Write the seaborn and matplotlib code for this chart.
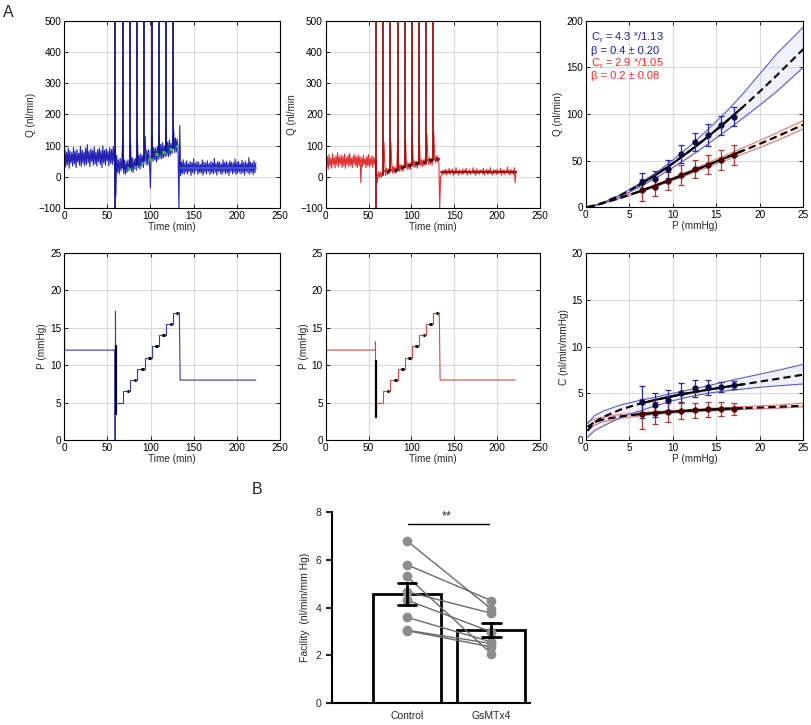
import matplotlib
matplotlib.use("Agg")
import matplotlib.pyplot as plt
import numpy as np
import pandas as pd
import seaborn as sns

sns.set_style("white")
plt.rcParams["font.family"] = ["Liberation Sans", "DejaVu Sans"]
plt.rcParams["mathtext.fontset"] = "custom"
plt.rcParams["mathtext.rm"] = "Liberation Sans"
plt.rcParams["font.size"] = 7.2

# ---- panel A, perfusion traces (1 sample per minute) ----
blue_q_pre = [55, 88, 32, 80, 40, 92, 28, 84, 45, 78, 35, 95, 42, 82, 30, 88, 48, 76, 38, 98,
              34, 86, 44, 80, 36, 92, 40, 104, 46, 82, 33, 90, 50, 85, 38, 96, 42, 80, 35, 88,
              48, 93, 40, 84, 30, 100, 45, 86, 38, 90, 52, 82, 36, 94, 44, 88, 40, 98, 50, 86]
blue_q_ramp = [-60, 70, 15, 55, 10, 60, 20, 58,
               120, 12, 55, 8, 50, 15, 55, 20, 45,
               110, 18, 62, 15, 58, 25, 60, 22,
               120, 30, 70, 25, 75, 35, 68, 30, 80,
               130, 40, 85, 38, 88, 45, -35, 82,
               135, 50, 95, 55, 92, 48, 98, 55,
               140, 60, 105, 58, 110, 62, 100, 65,
               150, 68, 112, 65, 118, 70, 108, 75, 115,
               150, 78, 125, 80, 122, 85]
blue_q_drop = [-100, 165]
blue_q_post = [5, 48, 12, 55, 8, 45, 15, 52, 10, 42, 18, 50, 5, 46, 14, 58, 10, 44, 20, 50,
               8, 47, 15, 40, 12, 55, 6, 48, 16, 45, 10, 52, 18, 43, 8, 50, 14, 46, 10, 60,
               15, 44, 6, 50, 18, 48, 12, 42, 8, 55, 16, 46, 10, 50, 14, 44, 5, 52, 18, 47,
               10, 45, 15, 58, 8, 48, 12, 50, 16, 42, 10, 54, 14, 46, 6, 50, 18, 44, 12, 62,
               10, 48, 15, 45, 8, 52, 14, 45]

red_q_pre = [70, 30, 65, 25, 72, 35, 60, 28, 75, 40, 62, 30, 68, 38, 78, 32, 64, 42, 70, 30,
             66, 36, 74, 28, 62, 40, 70, 33, 76, 38, 60, 30, 68, 42, 72, 35, 64, 30, 70, 38,
             66, -18, 62, 34, 70, 40, 58, 30, 66, 36, 72, 32, 60, 38, 68, 30, 64, 42, 58, 35]
red_q_ramp = [-20, 0, 18, -2, 15, 0, 16, 5,
              110, 40, 5, 28, 8, 26, 10, 28,
              115, 45, 12, 34, 14, 32, 12, 32,
              120, 50, 18, 40, 20, 38, 18, 36, 42,
              125, 55, 24, 44, 26, 46, 24, 44,
              130, 60, 30, 52, 32, 50, 28, 52,
              135, 65, 36, 56, 34, 54, 38, 58, 40,
              140, 70, 40, 62, 42, 60, 38, 58,
              145, 75, 46, 68, 48, 66, 50]
red_q_drop = [-100, 0]
red_q_post = [5, 20, 8, 22, 10, 25, 6, 20, 12, 28, 8, 22, 14, 26, 5, 20, 10, 30, 12, 18,
              6, 24, 14, 20, 8, 26, 10, 22, 15, 28, 6, 20, 12, 24, 8, 18, 14, 30, 10, 22,
              5, 26, 12, 20, 8, 24, 16, 22, 10, 28, 6, 20, 14, 25, 8, 22, 12, 30, 10, 18,
              6, 24, 14, 22, 8, 26, 10, 20, 15, 28, 5, 22, 12, 24, 8, 20, 14, 32, 10, 22,
              6, 25, 12, 20, 8, 30, -18, 20]

# step edges (min) and pressure levels (mmHg)
blue_edges = [59.6, 68, 76.5, 84.6, 93, 101.5, 109.6, 117.7, 126, 133.3]
red_edges = [59.6, 67.3, 75.4, 83.8, 92, 100.4, 108.5, 117, 125, 132.5]
step_levels = [5, 6.5, 8, 9.5, 11, 12.5, 14, 15.5, 17]

blue_spike_t = [59.6, 68, 76.5, 84.6, 93, 101.5, 109.6, 117.7, 126]
blue_spike_base = [-100, 30, 30, 40, 50, 60, 70, 80, 90]
red_spike_t = [0.3, 58.8, 67.3, 75.4, 83.8, 92, 100.4, 108.5, 117, 125]
red_spike_base = [-100, -100, 8, 17, 22, 28, 34, 40, 45, 50]

blue_core_edges = [0, 59.6, 68, 76.5, 84.6, 93, 101.5, 109.6, 117.7, 126, 133]
blue_core = [62, 32, 30, 38, 50, 62, 72, 82, 92, 100]
red_core_edges = [0, 58.8, 67.3, 75.4, 83.8, 92, 100.4, 108.5, 117, 125, 133]
red_core = [50, 6, 19, 24, 32, 40, 45, 49, 54, 59]
blue_post_core = 30
red_post_core = 15

blue_plateau_q = [28, 31, 44, 58, 73, 81, 90, 100]
red_plateau_q = [19, 24, 32, 40, 45, 49, 54, 59]

blue_p_pre_t = [0, 0, 0.4, 58.5, 58.5, 59.3, 59.3, 59.6]
blue_p_pre = [8.3, 18.7, 12, 12, 0, 0, 17.2, 5]
blue_p_post_t = [133.3, 134.3, 222]
blue_p_post = [17, 8, 8]
red_p_pre_t = [0, 0, 0.4, 58, 58, 58.6, 59.6]
red_p_pre = [7.5, 12, 12, 12, 13.1, 3, 5]
red_p_post_t = [132.5, 133.5, 221]
red_p_post = [17, 8, 8]

# ---- panel A, flow / facility vs pressure ----
p_data = [6.5, 8, 9.5, 11, 12.5, 14, 15.5, 17]
q_blue = [27, 30, 41, 57, 70, 77.5, 88, 97]
q_blue_err = [10, 9, 10, 10, 10, 12, 10, 10]
q_red = [18.5, 22, 28.5, 34.6, 41, 45.6, 50.6, 56]
q_red_err = [11.5, 10, 9.5, 10.4, 9.6, 10, 10.4, 10.7]
c_blue = [4.1, 3.75, 4.29, 5.07, 5.54, 5.64, 5.71, 5.89]
c_blue_err = [1.7, 1.25, 1.07, 1.0, 0.89, 0.8, 0.55, 0.42]
c_red = [2.75, 2.86, 2.96, 3.1, 3.21, 3.29, 3.32, 3.36]
c_red_err = [1.6, 1.18, 1.0, 0.9, 0.8, 0.78, 0.75, 0.65]

p_fit = np.array([0.2, 1, 2, 4, 6, 8, 10, 12, 14, 16, 18, 20, 22, 25])
q_fit_blue = [0.2, 1.9, 4.9, 13.0, 23.0, 34.4, 47.0, 60.7, 75.3, 90.8, 107.0, 124.1, 141.8, 169.5]
q_hi_blue = [0.3, 2.0, 5.2, 13.5, 24.5, 36.5, 50.5, 66, 83, 101, 121, 143, 165, 193]
q_lo_blue = [0.1, 1.5, 4.2, 11.5, 20.8, 31.0, 42.5, 54.5, 67.5, 81, 95, 109.5, 124.5, 150]
q_fit_red = [0.3, 1.9, 4.4, 10.1, 16.4, 23.2, 30.3, 37.7, 45.2, 52.8, 60.5, 68.0, 76.0, 88.5]
q_hi_red = [0.4, 2.1, 4.8, 10.8, 17.4, 24.5, 31.8, 39.5, 47.5, 55.5, 63.5, 71.5, 80, 93]
q_lo_red = [0.2, 1.7, 4.0, 9.4, 15.4, 21.9, 28.6, 35.6, 42.8, 50, 57, 64, 71.5, 84]
c_fit_blue = [0.98, 1.87, 2.47, 3.26, 3.83, 4.30, 4.70, 5.06, 5.38, 5.68, 5.95, 6.25, 6.55, 7.0]
c_hi_blue = [1.75, 2.6, 3.1, 3.75, 4.2, 4.6, 5.0, 5.4, 5.8, 6.25, 6.65, 7.05, 7.45, 8.1]
c_lo_blue = [0.3, 1.0, 1.5, 2.4, 3.05, 3.65, 4.2, 4.65, 5.0, 5.25, 5.45, 5.65, 5.8, 6.0]
c_fit_red = [1.39, 1.91, 2.20, 2.53, 2.74, 2.90, 3.03, 3.15, 3.24, 3.33, 3.41, 3.48, 3.55, 3.66]
c_hi_red = [1.9, 2.25, 2.45, 2.75, 2.92, 3.05, 3.17, 3.28, 3.38, 3.48, 3.57, 3.66, 3.75, 3.95]
c_lo_red = [1.0, 1.6, 1.95, 2.32, 2.55, 2.74, 2.88, 3.0, 3.1, 3.18, 3.26, 3.33, 3.40, 3.55]

# ---- panel B ----
control = [6.79, 5.79, 5.30, 4.66, 4.31, 3.59, 3.05, 3.03]
gsmtx4 = [3.94, 4.29, 2.07, 3.76, 2.98, 2.56, 2.49, 2.35]

BLUE_TRACE = "#2424b4"
BLUE_CORE = "#4d5cf2"
BLUE_DARK = "#14147e"
RED_TRACE = "#e23434"
RED_CORE = "#8a0a0a"
RED_DARK = "#9a1010"

fig = plt.figure(figsize=(8.11, 7.25), dpi=100)


def px_axes(left, top, right, bottom):
    return fig.add_axes([left / 811, 1 - bottom / 725, (right - left) / 811, (bottom - top) / 725])


def matlab_box(ax, xlim, ylim, xticks, yticks, xlabel, ylabel):
    ax.set_xlim(xlim)
    ax.set_ylim(ylim)
    ax.set_xticks(xticks)
    ax.set_yticks(yticks)
    ax.grid(True, color="#d9d9d9", lw=0.8)
    ax.set_axisbelow(True)
    for s in ax.spines.values():
        s.set_visible(True)
        s.set_color("black")
        s.set_linewidth(0.8)
    ax.tick_params(direction="in", length=3, width=0.6, top=True, right=True,
                   bottom=True, left=True, labelsize=7.2, pad=2, colors="black")
    ax.set_xlabel(xlabel, fontsize=7.2, labelpad=1)
    ax.set_ylabel(ylabel, fontsize=7.2, labelpad=2)


def q_trace(ax, pre, ramp, drop, post, color, core_edges, core, post_core, core_color,
            spike_t, spike_base, spike_color, edges, plateau, dash_color):
    t = np.concatenate([np.arange(0, len(pre)), 60 + np.arange(len(ramp)),
                        [133, 134], 135 + np.arange(len(post))])
    q = np.concatenate([pre, ramp, drop, post])
    sns.lineplot(x=t, y=q, ax=ax, color=color, lw=0.8, estimator=None, sort=False)
    ax.stairs(core, core_edges, baseline=None, color=core_color, lw=1.6, alpha=0.8)
    ax.plot([135, t[-1]], [post_core, post_core], color=core_color, lw=1.6, alpha=0.8)
    ax.vlines(spike_t, spike_base, 520, color=spike_color, lw=1.3)
    ends = np.array(edges[2:])
    ax.hlines(plateau, ends - 4, ends - 1, color=dash_color, lw=2.2, zorder=5)


def p_trace(ax, pre_t, pre, edges, post_t, post, color, black_t, black_lo, black_hi):
    sns.lineplot(x=pre_t, y=pre, ax=ax, color=color, lw=0.8, estimator=None, sort=False)
    ax.stairs(step_levels, edges, baseline=None, color=color, lw=0.8)
    sns.lineplot(x=post_t, y=post, ax=ax, color=color, lw=0.8, estimator=None, sort=False)
    ax.vlines([black_t], black_lo, black_hi, color="black", lw=1.6)
    ends = np.array(edges[2:])
    ax.hlines(step_levels[1:], ends - 4, ends - 1, color="black", lw=2.2, zorder=5)


time_ticks = [0, 50, 100, 150, 200, 250]

ax1 = px_axes(64, 20.7, 280, 208.3)
q_trace(ax1, blue_q_pre, blue_q_ramp, blue_q_drop, blue_q_post, BLUE_TRACE,
        blue_core_edges, blue_core, blue_post_core, BLUE_CORE,
        blue_spike_t, blue_spike_base, BLUE_DARK, blue_edges, blue_plateau_q, "#2ed12e")
matlab_box(ax1, (0, 250), (-100, 500), time_ticks, range(-100, 501, 100), "Time (min)", "Q (nl/min)")

ax2 = px_axes(325.7, 20.7, 540, 208.3)
q_trace(ax2, red_q_pre, red_q_ramp, red_q_drop, red_q_post, RED_TRACE,
        red_core_edges, red_core, red_post_core, RED_CORE,
        red_spike_t, red_spike_base, RED_DARK, red_edges, red_plateau_q, "#111111")
matlab_box(ax2, (0, 250), (-100, 500), time_ticks, range(-100, 501, 100), "Time (min)", "Q (nl/min")

ax4 = px_axes(64.3, 252.7, 280, 440)
p_trace(ax4, blue_p_pre_t, blue_p_pre, blue_edges, blue_p_post_t, blue_p_post,
        "#3838a8", 59.5, 3.3, 12.7)
matlab_box(ax4, (0, 250), (0, 25), time_ticks, range(0, 26, 5), "Time (min)", "P (mmHg)")

ax5 = px_axes(325.7, 252.7, 540, 440)
p_trace(ax5, red_p_pre_t, red_p_pre, red_edges, red_p_post_t, red_p_post,
        "#cc4a4a", 58.5, 3.0, 10.7)
matlab_box(ax5, (0, 250), (0, 25), time_ticks, range(0, 26, 5), "Time (min)", "P (mmHg)")


def fit_panel(ax, fit_b, hi_b, lo_b, fit_r, hi_r, lo_r, y_b, e_b, y_r, e_r):
    solid = (p_fit >= 6) & (p_fit <= 18)
    ax.fill_between(p_fit, lo_r, hi_r, color="#f4b8b8", alpha=0.25, lw=0)
    ax.plot(p_fit, hi_r, color="#e07a7a", lw=0.8)
    ax.plot(p_fit, lo_r, color="#e07a7a", lw=0.8)
    ax.fill_between(p_fit, lo_b, hi_b, color="#c4c4f0", alpha=0.25, lw=0)
    ax.plot(p_fit, hi_b, color="#5a5ac8", lw=0.8)
    ax.plot(p_fit, lo_b, color="#5a5ac8", lw=0.8)
    for fit in (fit_b, fit_r):
        ax.plot(p_fit, fit, color="black", lw=1.5, ls=(0, (3.5, 2)))
        ax.plot(p_fit[solid], np.asarray(fit)[solid], color="black", lw=1.5)
    ax.errorbar(p_data, y_r, yerr=e_r, fmt="o", color="#a83838", ms=3.5, mfc="#4a0000",
                mec="#4a0000", capsize=2.5, elinewidth=0.9, capthick=0.9, zorder=4)
    ax.errorbar(p_data, y_b, yerr=e_b, fmt="o", color="#2a2aa0", ms=3.5, mfc="#0c0c40",
                mec="#0c0c40", capsize=2.5, elinewidth=0.9, capthick=0.9, zorder=4)


ax3 = px_axes(585.7, 20.7, 803.3, 207.3)
fit_panel(ax3, q_fit_blue, q_hi_blue, q_lo_blue, q_fit_red, q_hi_red, q_lo_red,
          q_blue, q_blue_err, q_red, q_red_err)
matlab_box(ax3, (0, 25), (0, 200), range(0, 26, 5), range(0, 201, 50), "P (mmHg)", "Q (nl/min)")
legend_lines = [
    (r"C$_\mathregular{r}$ = 4.3 $^\mathregular{x}$/1.13", "#1c1ca6"),
    ("β = 0.4 ± 0.20", "#1c1ca6"),
    (r"C$_\mathregular{r}$ = 2.9 $^\mathregular{x}$/1.05", "#ff2424"),
    ("β = 0.2 ± 0.08", "#ff2424"),
]
for i, (txt, col) in enumerate(legend_lines):
    ax3.text(0.023, 0.906 - i * 0.0675, txt, color=col, fontsize=8,
             transform=ax3.transAxes, va="center", ha="left")

ax6 = px_axes(585.7, 253.3, 803.3, 440)
fit_panel(ax6, c_fit_blue, c_hi_blue, c_lo_blue, c_fit_red, c_hi_red, c_lo_red,
          c_blue, c_blue_err, c_red, c_red_err)
matlab_box(ax6, (0, 25), (0, 20), range(0, 26, 5), range(0, 21, 5), "P (mmHg)", "C (nl/min/mmHg)")

# ---- panel B ----
axb = px_axes(332, 512, 530, 703)
df = pd.DataFrame({"group": ["Control"] * len(control) + ["GsMTx4"] * len(gsmtx4),
                   "facility": control + gsmtx4})
sns.barplot(data=df, x="group", y="facility", ax=axb, errorbar="se", color="white",
            edgecolor="black", linewidth=2, width=0.81, capsize=0.22,
            err_kws={"color": "black", "linewidth": 2, "zorder": 6})
for a, b in zip(control, gsmtx4):
    axb.plot([0, 1], [a, b], color="#6a6a6a", lw=1, zorder=3)
sns.stripplot(data=df, x="group", y="facility", ax=axb, jitter=False, color="#8c8c8c",
              size=7, zorder=4)
axb.plot([0.01, 0.976], [7.5, 7.5], color="black", lw=1)
axb.text(0.476, 7.55, "**", ha="center", va="bottom", fontsize=9)
axb.set_xlim(-0.89, 1.46)
axb.set_ylim(0, 8)
axb.set_yticks([0, 2, 4, 6, 8])
sns.despine(ax=axb)
for s in ("left", "bottom"):
    axb.spines[s].set_linewidth(1.5)
    axb.spines[s].set_color("black")
axb.tick_params(axis="y", direction="out", length=4, width=1.5, left=True, labelsize=7.5)
axb.tick_params(axis="x", length=0, labelsize=7.5, pad=6)
axb.set_xlabel("")
axb.set_ylabel("Facility  (nl/min/mm Hg)", fontsize=7.5)

fig.text(3 / 811, 1 - 12.5 / 725, "A", fontsize=11.5, va="center", ha="left")
fig.text(251.5 / 811, 1 - 489 / 725, "B", fontsize=11.5, va="center", ha="left")

fig.savefig("out.png", dpi=100)
